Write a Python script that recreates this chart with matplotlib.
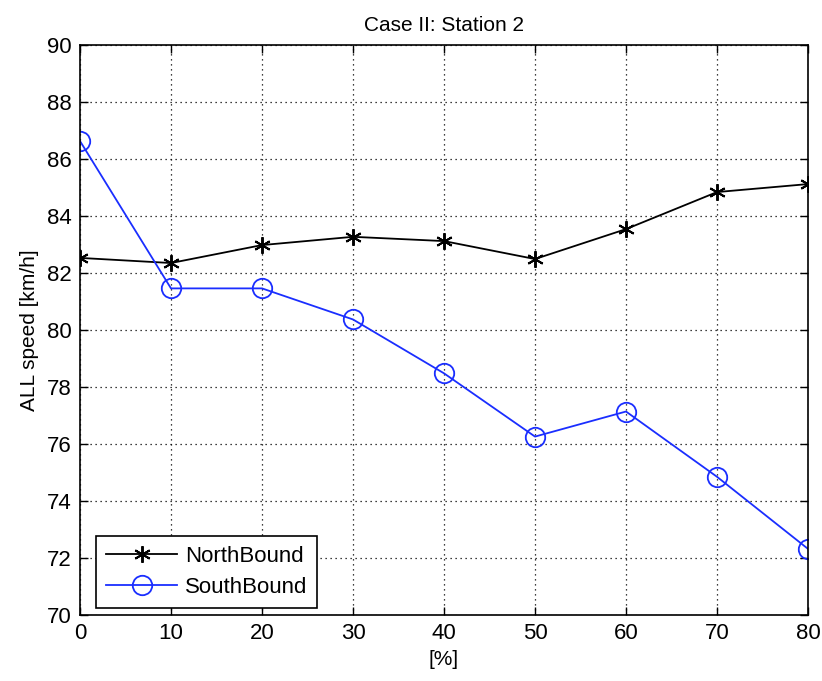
import matplotlib
matplotlib.use('Agg')
import matplotlib.pyplot as plt
from matplotlib import font_manager

percent = [0, 10, 20, 30, 40, 50, 60, 70, 80]
north_bound = [82.53, 82.35, 82.98, 83.27, 83.12, 82.49, 83.54, 84.84, 85.12]
south_bound = [86.63, 81.46, 81.46, 80.37, 78.48, 76.26, 77.14, 74.85, 72.32]

names = [f.name for f in font_manager.fontManager.ttflist]
fam = ['Liberation Sans Narrow', 'Liberation Sans', 'DejaVu Sans']
fam = [f for f in fam if f in names] or ['DejaVu Sans']
plt.rcParams['font.family'] = fam
plt.rcParams['font.size'] = 15

fig = plt.figure(figsize=(8.22, 6.81), dpi=100)
ax = fig.add_axes([80/822, 66/681, 728/822, 570/681])

ax.plot(percent, north_bound, '-', color='black', marker=(6, 2, 0), markersize=12,
        markeredgewidth=1.4, linewidth=1.3, label='NorthBound')
ax.plot(percent, south_bound, '-', color='#1a2eff', marker='o', markersize=14,
        markerfacecolor='none', markeredgewidth=1.3, linewidth=1.3, label='SouthBound')

ax.set_xlim(0, 80)
ax.set_ylim(70, 90)
ax.set_xticks(range(0, 81, 10))
ax.set_yticks(range(70, 91, 2))
ax.grid(True, color='black', linestyle=(0, (1, 3)), linewidth=0.9)
ax.tick_params(direction='in', length=6, width=1, top=True, right=True, labelsize=16, pad=6)
for s in ax.spines.values():
    s.set_linewidth(1.2)

ax.set_title('Case II: Station 2', fontsize=15, pad=10)
ax.set_xlabel('[%]', fontsize=15, labelpad=4)
ax.set_ylabel('ALL speed [km/h]', fontsize=15, labelpad=6)

leg = ax.legend(loc='lower left', bbox_to_anchor=(16/728, 7/570), fontsize=16,
                fancybox=False, framealpha=1, edgecolor='black', handlelength=3.2,
                handletextpad=0.35, borderaxespad=0, borderpad=0.45, labelspacing=0.45)
leg.get_frame().set_linewidth(1.2)

fig.savefig('out.png', dpi=100)
